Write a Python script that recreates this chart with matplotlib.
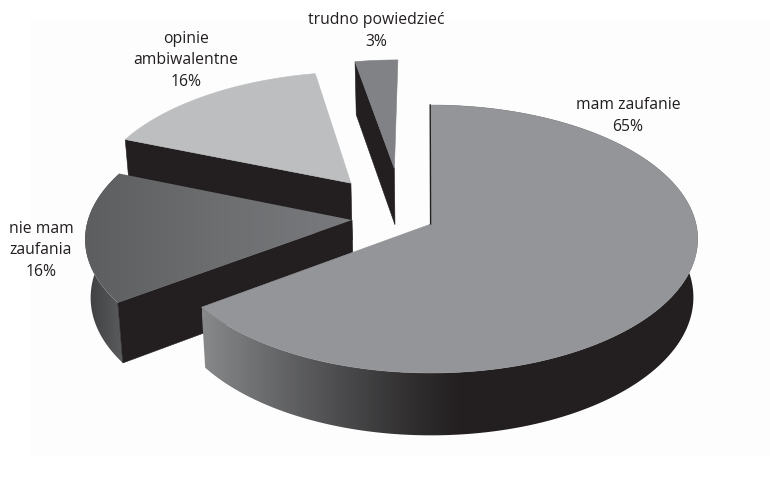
import numpy as np
from matplotlib import pyplot as plt
from matplotlib.colors import LinearSegmentedColormap
from matplotlib.patches import Polygon, Rectangle

labels = ["mam\u00a0zaufanie", "nie mam\nzaufania", "opinie\nambiwalentne", "trudno powiedzieć"]
values = [65, 16, 16, 3]

# widok pseudo-3D: skala dysku, perspektywa, srodek rzutu
SCALE_X = 265
SCALE_Y = 132.3
PERSP = 0.112
CX, CY = 431, 224
DARK = "#231f20"

# przesuniecia wycinkow w ukladzie dysku (promien = 1)
offsets = [(0, 0), (-0.299, 0.03), (-0.313, 0.32), (-0.145, 0.44)]
top_colors = ["#939598", None, "#bcbec0", "#808285"]
label_pos = [(628, 116), (41, 250.5), (186, 60.5), (376, 31)]


def project(u, v):
    denom = 1 + PERSP * v
    return CX + SCALE_X * u / denom, CY - SCALE_Y * v / denom


def drop(x, y):
    # dolna krawedz bryly: ku dolowi lekko sie zweza
    return CX + (x - CX) * 0.984, y + 53 + 0.03 * (y - 61)


def side_quad(ax, x1, y1, x2, y2, color, zorder):
    xb1, yb1 = drop(x1, y1)
    xb2, yb2 = drop(x2, y2)
    ax.add_patch(Polygon([(x1, y1), (x2, y2), (xb2, yb2), (xb1, yb1)], closed=True,
                         facecolor=color, edgecolor=color, lw=0.4, zorder=zorder))


def gradient_fill(ax, outline, x0, x1, cmap, zorder):
    patch = Polygon(outline, closed=True, facecolor="none", edgecolor="none", transform=ax.transData)
    ax.add_patch(patch)
    img = ax.imshow(np.linspace(0, 1, 512).reshape(1, -1), cmap=cmap, aspect="auto",
                    extent=(x0, x1, 487, 0), zorder=zorder)
    img.set_clip_path(patch)


def rim_outline(arc_x, arc_y):
    bx, by = drop(arc_x, arc_y)
    return np.column_stack([np.r_[arc_x, bx[::-1]], np.r_[arc_y, by[::-1]]])


rim_big = LinearSegmentedColormap.from_list(
    "rim_big", [(0, "#87888a"), (0.12, "#6c6d6f"), (0.26, "#4f4f51"), (0.42, "#302e2f"), (0.52, DARK), (1, DARK)])
rim_left = LinearSegmentedColormap.from_list("rim_left", ["#3d3d3f", "#5c5d5f"])
face_left = LinearSegmentedColormap.from_list("face_left", ["#5d5e60", "#6d6e70", "#797a7d"])

fig = plt.figure(figsize=(7.7, 4.87), dpi=100, facecolor="white")
ax = fig.add_axes([0, 0, 1, 1])
ax.axis("off")
ax.add_patch(Rectangle((30, 20), 740, 437, facecolor="#fdfdfd", edgecolor="none", zorder=0))

shares = np.array(values) / sum(values) * 2 * np.pi
ends = np.cumsum(shares)
starts = ends - shares

# kolejnosc rysowania od tylu do przodu
for idx, zorder in ((2, 2), (3, 3), (1, 4), (0, 6)):
    du, dv = offsets[idx]
    angles = np.linspace(starts[idx], ends[idx], 160)
    arc_x, arc_y = project(du + np.sin(angles), dv + np.cos(angles))
    apex_x, apex_y = project(du, dv)

    if idx == 0:
        gradient_fill(ax, rim_outline(arc_x, arc_y), arc_x[-1], arc_x.max() + 3, rim_big, zorder)
        ax.plot([arc_x[0] - 0.8, apex_x - 0.4], [arc_y[0], apex_y], color=DARK, lw=1, zorder=zorder + 0.5)
    elif idx == 1:
        gradient_fill(ax, rim_outline(arc_x, arc_y), arc_x.min(), arc_x[0] + 6, rim_left, zorder)
        side_quad(ax, apex_x, apex_y, arc_x[0], arc_y[0], DARK, zorder + 0.1)
    else:
        side_quad(ax, apex_x, apex_y, arc_x[0], arc_y[0], DARK, zorder)

    face = np.column_stack([np.r_[apex_x, arc_x], np.r_[apex_y, arc_y]])
    if top_colors[idx] is None:
        gradient_fill(ax, face, arc_x.min(), apex_x, face_left, zorder + 0.2)
    else:
        ax.add_patch(Polygon(face, closed=True, facecolor=top_colors[idx], edgecolor=top_colors[idx],
                             lw=0.4, zorder=zorder + 0.2))

for label, value, (tx, ty) in zip(labels, values, label_pos):
    ax.text(tx, ty, f"{label}\n{value}%", ha="center", va="center", fontsize=11.3,
            family="Open Sans", color=DARK, linespacing=1.47, zorder=10)

ax.set_xlim(0, 770)
ax.set_ylim(487, 0)
fig.savefig("out.png", dpi=100)
plt.close(fig)
